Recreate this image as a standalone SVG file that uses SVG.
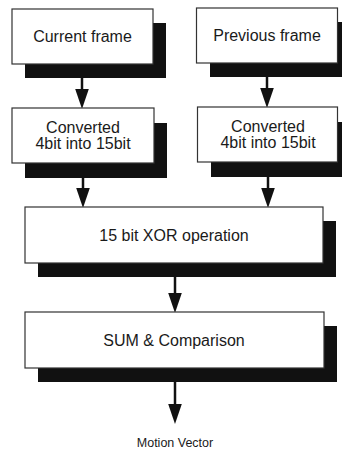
<svg xmlns="http://www.w3.org/2000/svg" width="342" height="453" viewBox="0 0 342 453">
<style>
.shadow{fill:#111;}
.box{fill:#fff;stroke:#333;stroke-width:1.2;}
.lbl{font-family:"Liberation Sans",Arial,sans-serif;font-size:16px;fill:#1a1a1a;text-anchor:middle;}
.out{font-family:"Liberation Sans",Arial,sans-serif;font-size:12.5px;fill:#1a1a1a;text-anchor:middle;}
.conn{stroke:#111;stroke-width:2.5;fill:none;marker-end:url(#ah);}
</style>
<defs>
<marker id="ah" markerUnits="userSpaceOnUse" markerWidth="20" markerHeight="14" viewBox="0 0 19 13" refX="2" refY="6.5" orient="auto">
<path d="M0,0 L19,6.5 L0,13 z" fill="#111"/>
</marker>
</defs>
<rect width="342" height="453" fill="#fff"/>
<g id="connectors">
<line class="conn" x1="82" y1="78" x2="82" y2="91"/>
<line class="conn" x1="267" y1="77" x2="267" y2="90"/>
<line class="conn" x1="83" y1="178" x2="83" y2="190"/>
<line class="conn" x1="268" y1="177" x2="268" y2="190"/>
<line class="conn" x1="175" y1="277" x2="175" y2="295"/>
<line class="conn" x1="175" y1="382" x2="175" y2="406"/>
</g>
<g id="current-frame">
<rect class="shadow" x="25" y="23" width="141" height="55"/>
<rect class="box" x="12" y="9" width="141" height="55"/>
<text class="lbl" x="82.5" y="42">Current frame</text>
</g>
<g id="previous-frame">
<rect class="shadow" x="210" y="22" width="141" height="55"/>
<rect class="box" x="196.5" y="8" width="141" height="55"/>
<text class="lbl" x="267" y="41">Previous frame</text>
</g>
<g id="converted-current">
<rect class="shadow" x="25" y="123" width="142" height="55"/>
<rect class="box" x="12" y="108" width="142" height="55"/>
<text class="lbl" x="83" y="133">Converted</text>
<text class="lbl" x="83" y="149">4bit into 15bit</text>
</g>
<g id="converted-previous">
<rect class="shadow" x="211" y="122" width="140" height="55"/>
<rect class="box" x="197.5" y="107" width="140" height="55"/>
<text class="lbl" x="268" y="132">Converted</text>
<text class="lbl" x="268" y="148">4bit into 15bit</text>
</g>
<g id="xor">
<rect class="shadow" x="38" y="221" width="298" height="56"/>
<rect class="box" x="25" y="207" width="298" height="56"/>
<text class="lbl" x="174" y="241">15 bit XOR operation</text>
</g>
<g id="sum">
<rect class="shadow" x="38" y="326" width="299" height="56"/>
<rect class="box" x="25" y="312" width="299" height="56"/>
<text class="lbl" x="174" y="346">SUM &amp; Comparison</text>
</g>
<g id="motion-vector">
<text class="out" x="175" y="447">Motion Vector</text>
</g>
</svg>
